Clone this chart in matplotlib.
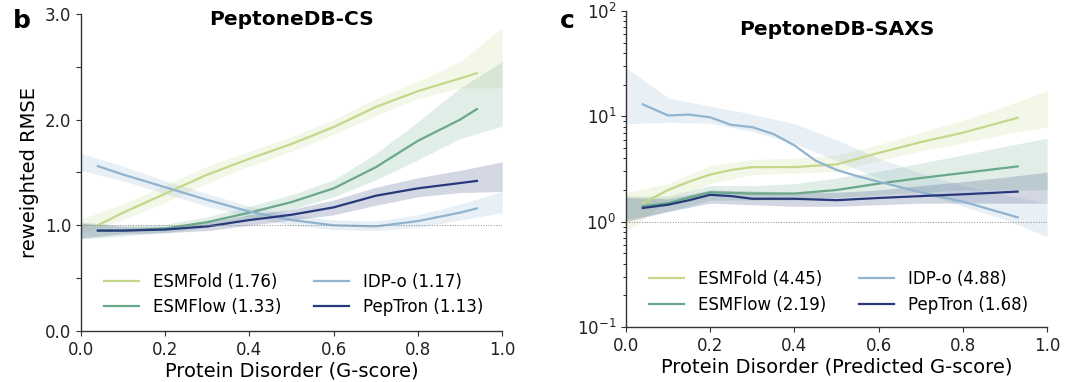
import matplotlib
matplotlib.use("Agg")
import matplotlib.pyplot as plt
import numpy as np

# ---- colours / labels ----
names = ["ESMFold", "ESMFlow", "IDP-o", "PepTron"]
colors = ["#c3d88a", "#6aa88a", "#90b4cf", "#27397a"]
cs_scores = ["1.76", "1.33", "1.17", "1.13"]
saxs_scores = ["4.45", "2.19", "4.88", "1.68"]

# ---- PeptoneDB-CS: median lines ----
cs_x = [0.04, 0.1, 0.2, 0.3, 0.4, 0.5, 0.6, 0.7, 0.8, 0.9, 0.94]
cs_esmfold = [1.0, 1.12, 1.3, 1.48, 1.63, 1.77, 1.93, 2.12, 2.27, 2.39, 2.44]
cs_esmflow = [0.95, 0.95, 0.97, 1.03, 1.12, 1.22, 1.35, 1.55, 1.8, 2.0, 2.1]
cs_idpo = [1.56, 1.48, 1.36, 1.24, 1.13, 1.05, 1.0, 0.99, 1.04, 1.12, 1.16]
cs_peptron = [0.95, 0.95, 0.96, 0.99, 1.05, 1.1, 1.17, 1.28, 1.35, 1.4, 1.42]

# ---- PeptoneDB-CS: bands ----
cs_bx = [0.0, 0.1, 0.2, 0.3, 0.4, 0.5, 0.6, 0.7, 0.8, 0.9, 1.0]
cs_esmfold_lo = [0.93, 1.05, 1.22, 1.4, 1.56, 1.7, 1.86, 2.04, 2.2, 2.3, 2.3]
cs_esmfold_hi = [1.06, 1.2, 1.38, 1.56, 1.7, 1.84, 2.0, 2.2, 2.36, 2.55, 2.87]
cs_esmflow_lo = [0.87, 0.9, 0.93, 0.98, 1.06, 1.15, 1.27, 1.43, 1.62, 1.82, 1.94]
cs_esmflow_hi = [1.03, 1.0, 1.01, 1.08, 1.18, 1.29, 1.43, 1.68, 1.98, 2.3, 2.55]
cs_idpo_lo = [1.52, 1.42, 1.3, 1.18, 1.08, 1.0, 0.96, 0.95, 0.98, 1.05, 1.12]
cs_idpo_hi = [1.68, 1.56, 1.42, 1.3, 1.18, 1.1, 1.05, 1.04, 1.1, 1.2, 1.32]
cs_peptron_lo = [0.88, 0.92, 0.93, 0.95, 1.0, 1.05, 1.1, 1.19, 1.27, 1.31, 1.32]
cs_peptron_hi = [1.02, 0.99, 0.99, 1.03, 1.1, 1.15, 1.24, 1.36, 1.45, 1.52, 1.6]

# ---- PeptoneDB-SAXS: median lines ----
sx_esmfold_x = [0.04, 0.1, 0.15, 0.2, 0.25, 0.3, 0.4, 0.5, 0.6, 0.7, 0.8, 0.93]
sx_esmfold = [1.5, 2.0, 2.4, 2.8, 3.1, 3.3, 3.3, 3.5, 4.5, 5.7, 7.0, 9.7]
sx_esmflow_x = [0.04, 0.1, 0.15, 0.2, 0.3, 0.4, 0.5, 0.6, 0.7, 0.8, 0.93]
sx_esmflow = [1.4, 1.5, 1.7, 1.9, 1.85, 1.85, 2.0, 2.3, 2.6, 2.9, 3.35]
sx_idpo_x = [0.04, 0.1, 0.15, 0.2, 0.25, 0.3, 0.35, 0.4, 0.45, 0.5, 0.55, 0.6, 0.7, 0.8, 0.93]
sx_idpo = [13, 10.2, 10.4, 9.8, 8.3, 7.9, 6.8, 5.3, 3.8, 3.1, 2.7, 2.4, 1.9, 1.55, 1.1]
sx_peptron_x = [0.04, 0.1, 0.15, 0.2, 0.25, 0.3, 0.4, 0.5, 0.6, 0.7, 0.8, 0.93]
sx_peptron = [1.35, 1.45, 1.6, 1.8, 1.75, 1.65, 1.65, 1.6, 1.68, 1.75, 1.82, 1.93]

# ---- PeptoneDB-SAXS: bands ----
sx_bx = [0.0, 0.1, 0.2, 0.3, 0.4, 0.5, 0.6, 0.7, 0.8, 0.9, 1.0]
sx_esmfold_lo = [0.8, 1.6, 2.3, 2.8, 2.9, 3.0, 3.8, 4.7, 5.6, 6.8, 7.9]
sx_esmfold_hi = [1.9, 2.3, 3.4, 3.9, 4.0, 4.3, 5.4, 7.0, 9.2, 12.5, 17.5]
sx_esmflow_lo = [1.05, 1.25, 1.6, 1.6, 1.6, 1.7, 1.8, 1.9, 2.0, 2.0, 2.0]
sx_esmflow_hi = [1.75, 1.75, 2.2, 2.2, 2.3, 2.6, 3.0, 3.6, 4.3, 5.2, 6.2]
sx_idpo_lo = [8.5, 8.8, 8.6, 7.2, 5.5, 3.8, 2.6, 1.9, 1.4, 1.05, 0.72]
sx_idpo_hi = [29, 15, 12.5, 10.5, 8.5, 6.0, 4.0, 2.9, 2.2, 1.8, 1.5]
sx_peptron_lo = [1.0, 1.25, 1.5, 1.45, 1.4, 1.4, 1.45, 1.5, 1.5, 1.5, 1.5]
sx_peptron_hi = [1.7, 1.65, 2.0, 1.95, 1.9, 1.9, 2.0, 2.2, 2.4, 2.65, 2.95]

plt.rcParams.update({
    "font.family": "DejaVu Sans",
    "font.size": 12,
    "xtick.labelsize": 12,
    "ytick.labelsize": 12,
    "axes.linewidth": 1.0,
})

fig = plt.figure(figsize=(10.8, 3.82), dpi=100)
ax1 = fig.add_axes([0.075, 0.1335, 0.39, 0.830])
ax2 = fig.add_axes([0.5796, 0.144, 0.39, 0.827])

legend_kw = dict(loc="lower left", ncol=2, frameon=False, fontsize=12,
                 handlelength=2.1, columnspacing=2.0, labelspacing=0.45)

# ---- panel b ----
cs_lines = [(cs_x, cs_esmfold), (cs_x, cs_esmflow), (cs_x, cs_idpo), (cs_x, cs_peptron)]
cs_bands = [(cs_esmfold_lo, cs_esmfold_hi), (cs_esmflow_lo, cs_esmflow_hi),
            (cs_idpo_lo, cs_idpo_hi), (cs_peptron_lo, cs_peptron_hi)]
for i in range(4):
    lo, hi = cs_bands[i]
    ax1.fill_between(cs_bx, lo, hi, color=colors[i], alpha=0.2, linewidth=0)
    x, y = cs_lines[i]
    ax1.plot(x, y, color=colors[i], lw=1.6, label=f"{names[i]} ({cs_scores[i]})")
ax1.axhline(1.0, color="#888888", lw=0.7, ls=":")
ax1.set_xlim(0, 1)
ax1.set_ylim(0, 3)
ax1.set_yticks([0, 0.5, 1, 1.5, 2, 2.5, 3])
ax1.set_yticklabels(["0.0", "", "1.0", "", "2.0", "", "3.0"])
ax1.set_xticks([0, 0.2, 0.4, 0.6, 0.8, 1.0])
ax1.set_xlabel("Protein Disorder (G-score)", fontsize=14, labelpad=2)
ax1.set_ylabel("reweighted RMSE", fontsize=14)
ax1.text(0.5, 0.984, "PeptoneDB-CS", transform=ax1.transAxes, ha="center", va="center",
         fontsize=14.5, fontweight="bold")
ax1.legend(bbox_to_anchor=(0.02, 0.0), **legend_kw)

# ---- panel c ----
sx_lines = [(sx_esmfold_x, sx_esmfold), (sx_esmflow_x, sx_esmflow),
            (sx_idpo_x, sx_idpo), (sx_peptron_x, sx_peptron)]
sx_bands = [(sx_esmfold_lo, sx_esmfold_hi), (sx_esmflow_lo, sx_esmflow_hi),
            (sx_idpo_lo, sx_idpo_hi), (sx_peptron_lo, sx_peptron_hi)]
for i in range(4):
    lo, hi = sx_bands[i]
    ax2.fill_between(sx_bx, lo, hi, color=colors[i], alpha=0.2, linewidth=0)
    x, y = sx_lines[i]
    ax2.plot(x, y, color=colors[i], lw=1.6, label=f"{names[i]} ({saxs_scores[i]})")
ax2.axhline(1.0, color="#888888", lw=0.7, ls=":")
ax2.set_yscale("log")
ax2.set_xlim(0, 1)
ax2.set_ylim(0.1, 100)
ax2.set_xticks([0, 0.2, 0.4, 0.6, 0.8, 1.0])
ax2.set_xlabel("Protein Disorder (Predicted G-score)", fontsize=14, labelpad=2)
ax2.text(0.5, 0.943, "PeptoneDB-SAXS", transform=ax2.transAxes, ha="center", va="center",
         fontsize=14.5, fontweight="bold")
ax2.legend(bbox_to_anchor=(0.02, -0.005), **legend_kw)

for ax in (ax1, ax2):
    ax.spines["top"].set_visible(False)
    ax.spines["right"].set_visible(False)
    for s in ("left", "bottom"):
        ax.spines[s].set_color("#333333")
    ax.tick_params(colors="#333333", labelcolor="#222222")

fig.text(0.012, 0.945, "b", fontsize=18, fontweight="bold", va="center")
fig.text(0.518, 0.945, "c", fontsize=18, fontweight="bold", va="center")

fig.savefig("out.png", dpi=100)
